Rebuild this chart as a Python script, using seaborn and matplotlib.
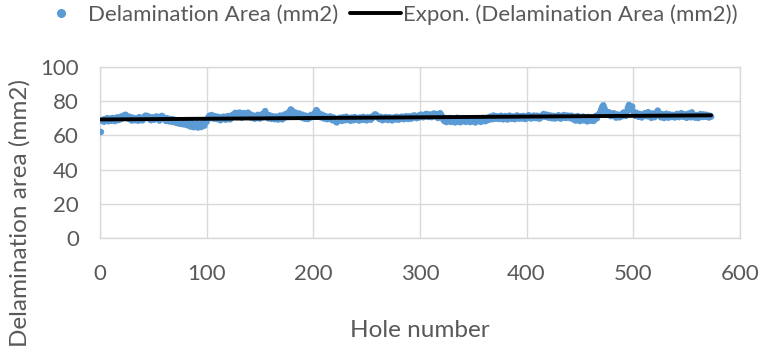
import numpy as np
import pandas as pd
import matplotlib
matplotlib.use("Agg")
import matplotlib.pyplot as plt
from matplotlib.lines import Line2D
import seaborn as sns

# Delamination area per hole (mm2), holes 1..573
area = [
    62.0, 68.5, 69.2, 68.0, 69.5, 68.8, 70.1, 68.3, 69.0, 69.8, 68.6, 70.2, 69.1, 68.4, 69.7, 70.5, 68.9, 69.3, 70.8, 69.6,
    71.2, 70.4, 71.8, 72.1, 71.5, 70.6, 69.8, 70.9, 69.2, 68.7, 70.3, 69.5, 68.9, 70.0, 69.4, 68.6, 70.7, 69.9, 69.1, 68.8,
    70.4, 71.0, 71.6, 70.8, 71.3, 70.1, 69.5, 68.9, 70.6, 69.8, 69.2, 70.5, 71.1, 70.2, 69.6, 68.7, 70.9, 71.4, 71.0, 69.9,
    69.3, 68.5, 70.1, 69.0, 68.2, 69.6, 68.8, 67.9, 69.4, 68.6, 67.5, 68.9, 67.2, 68.3, 66.8, 68.0, 67.4, 66.5, 68.1, 67.0,
    66.2, 67.8, 65.8, 66.9, 65.2, 67.5, 66.0, 64.8, 66.6, 65.5, 67.2, 64.6, 65.9, 66.8, 64.9, 66.3, 67.6, 65.7, 68.4, 67.9,
    69.5, 70.8, 71.6, 70.2, 71.9, 70.9, 69.8, 71.2, 70.5, 69.6, 70.9, 70.1, 68.9, 70.4, 69.7, 71.0, 70.3, 69.2, 70.7, 71.3,
    70.0, 69.4, 71.5, 70.6, 72.2, 71.1, 73.2, 72.0, 70.8, 72.9, 73.4, 71.6, 70.4, 72.5, 73.1, 71.8, 70.9, 72.7, 73.3, 71.4,
    70.6, 72.1, 70.3, 71.5, 69.8, 71.0, 70.2, 72.0, 71.3, 69.9, 71.7, 72.4, 70.7, 73.0, 74.2, 72.6, 71.1, 70.0, 71.8, 70.5,
    69.7, 71.2, 70.4, 69.5, 71.0, 70.1, 69.3, 70.8, 71.6, 70.0, 69.4, 71.3, 72.2, 70.6, 71.9, 73.0, 72.4, 74.1, 75.2, 74.6,
    73.2, 72.0, 73.5, 71.4, 72.6, 70.9, 72.8, 71.7, 70.5, 72.1, 71.0, 69.8, 71.5, 70.7, 69.6, 71.2, 70.3, 72.0, 70.8, 71.6,
    72.5, 73.6, 74.8, 74.0, 72.9, 71.7, 70.6, 72.2, 71.0, 69.9, 71.4, 70.2, 69.5, 70.8, 69.8, 71.1, 70.0, 68.9, 70.5, 69.3,
    68.4, 67.6, 69.7, 68.8, 70.3, 69.2, 68.5, 70.6, 69.6, 68.9, 70.9, 69.4, 70.2, 69.0, 68.6, 70.4, 69.8, 68.9, 70.7, 69.5,
    70.1, 69.3, 68.7, 70.5, 69.9, 69.1, 70.8, 70.0, 69.4, 68.8, 70.6, 69.7, 70.3, 69.2, 71.0, 70.4, 71.6, 72.3, 72.0, 71.2,
    70.5, 69.6, 70.9, 69.8, 68.9, 70.4, 69.5, 70.7, 69.9, 69.0, 70.6, 69.8, 70.3, 68.8, 69.7, 70.5, 69.4, 70.9, 70.1, 69.2,
    70.6, 69.7, 71.0, 70.3, 69.5, 70.8, 71.2, 70.4, 69.6, 71.1, 70.2, 69.8, 71.4, 70.6, 71.7, 70.9, 70.1, 71.3, 70.5, 71.8,
    72.2, 71.4, 70.6, 72.0, 71.2, 72.6, 71.5, 70.8, 72.3, 71.6, 70.7, 72.1, 72.8, 71.3, 72.5, 71.0, 70.2, 72.4, 73.0, 72.0,
    70.9, 69.2, 68.4, 70.1, 67.8, 69.4, 68.6, 70.2, 67.9, 69.1, 68.3, 69.8, 67.6, 68.9, 70.3, 68.1, 69.5, 67.7, 68.8, 70.0,
    68.4, 69.6, 67.9, 68.7, 70.1, 69.0, 67.8, 68.5, 69.9, 68.2, 69.4, 67.6, 68.9, 70.0, 68.6, 69.3, 67.9, 68.8, 70.2, 69.1,
    68.3, 69.7, 68.8, 70.4, 69.2, 71.0, 70.3, 69.5, 71.6, 70.8, 69.8, 71.2, 70.4, 69.6, 70.9, 71.5, 70.1, 69.4, 70.7, 71.3,
    70.0, 69.3, 70.8, 71.6, 70.5, 69.7, 71.1, 70.2, 69.5, 70.9, 71.7, 70.4, 69.8, 71.2, 70.6, 69.9, 71.4, 70.3, 69.6, 71.0,
    70.5, 71.8, 70.7, 69.9, 71.3, 70.2, 71.6, 70.9, 70.1, 71.5, 70.4, 69.8, 71.1, 70.6, 71.9, 72.5, 71.4, 70.8, 72.1, 71.2,
    70.3, 71.7, 70.9, 70.0, 71.4, 70.6, 69.9, 71.2, 70.5, 71.8, 70.7, 69.8, 71.3, 70.4, 71.9, 71.0, 70.2, 71.6, 70.8, 71.4,
    70.1, 71.5, 70.6, 69.4, 70.9, 68.7, 70.2, 71.3, 69.6, 68.4, 70.5, 69.1, 71.0, 68.8, 70.3, 69.5, 68.2, 70.8, 69.7, 68.6,
    70.1, 69.3, 68.5, 70.6, 71.4, 70.0, 71.8, 72.4, 73.5, 75.2, 76.8, 77.6, 75.9, 74.2, 73.0, 72.1, 73.6, 72.5, 71.3, 72.8,
    71.6, 72.9, 71.2, 70.4, 72.3, 71.5, 70.6, 72.0, 71.1, 72.6, 73.4, 72.2, 71.4, 73.8, 76.2, 77.8, 77.1, 75.4, 76.9, 74.1,
    72.8, 71.5, 73.2, 72.0, 70.9, 72.6, 71.3, 70.5, 72.1, 71.7, 73.0, 72.3, 71.2, 73.6, 72.4, 71.0, 70.3, 72.8, 71.5, 70.7,
    72.2, 73.4, 74.5, 73.1, 71.8, 70.6, 72.5, 71.3, 70.2, 71.9, 72.7, 71.0, 70.4, 72.3, 71.6, 70.8, 72.0, 71.2, 70.5, 71.8,
    72.6, 71.4, 70.7, 72.2, 73.0, 71.7, 70.9, 72.4, 71.1, 70.3, 71.6, 72.8, 71.5, 70.6, 73.5, 72.1, 71.3, 70.4, 71.9, 71.0,
    70.2, 71.7, 72.5, 71.4, 70.8, 72.3, 71.6, 70.9, 72.0, 71.2, 70.5, 71.5, 71.0,
]
holes = list(range(1, len(area) + 1))

x_ticks = [0, 100, 200, 300, 400, 500, 600]
y_ticks = [0, 20, 40, 60, 80, 100]
x_label = "Hole number"
y_label = "Delamination area (mm2)"
series_name = "Delamination Area (mm2)"
trend_name = "Expon. (Delamination Area (mm2))"

df = pd.DataFrame({"hole": holes, "area": area})

# exponential trendline fitted like Excel (least squares on ln y)
b, ln_a = np.polyfit(df["hole"], np.log(df["area"]), 1)
trend = pd.DataFrame({"hole": df["hole"], "fit": np.exp(ln_a) * np.exp(b * df["hole"])})

sns.set_style("white")
plt.rcParams["font.family"] = ["Lato", "DejaVu Sans"]

text_color = "#595959"
grid_color = "#D9D9D9"
blue = "#5B9BD5"

fig = plt.figure(figsize=(7.62, 3.55), dpi=100)
ax = fig.add_axes([0.131, 0.330, 0.840, 0.481])

sns.scatterplot(data=df, x="hole", y="area", ax=ax, color=blue, s=22,
                edgecolor="none", linewidth=0, zorder=3, legend=False)
sns.lineplot(data=trend, x="hole", y="fit", ax=ax, color="black",
             linewidth=2.8, zorder=4, legend=False)

ax.set_xlim(0, 600)
ax.set_ylim(0, 100)
ax.set_xticks(x_ticks)
ax.set_yticks(y_ticks)
ax.grid(True, color=grid_color, linewidth=1.0)
ax.set_axisbelow(True)
for sp in ax.spines.values():
    sp.set_visible(True)
    sp.set_color(grid_color)
    sp.set_linewidth(1.0)
ax.tick_params(axis="both", length=0, labelsize=16, colors=text_color)
ax.tick_params(axis="x", pad=19)
ax.tick_params(axis="y", pad=15)
ax.set_xlabel(x_label, fontsize=17.5, color=text_color)
ax.set_ylabel(y_label, fontsize=17.5, color=text_color)
ax.xaxis.label.set_va("center")
ax.yaxis.label.set_va("center")
ax.xaxis.set_label_coords(0.5, -0.545)
ax.yaxis.set_label_coords(-0.125, 0.146)

handles = [
    Line2D([], [], marker="o", linestyle="none", color=blue, markersize=5.5),
    Line2D([], [], color="black", linewidth=2.8),
]
fig.legend(handles, [series_name, trend_name], loc="center",
           bbox_to_anchor=(0.507, 0.958), ncol=2, frameon=False, fontsize=16,
           labelcolor=text_color, handlelength=2.3, handletextpad=0.1,
           columnspacing=0.5, borderpad=0, borderaxespad=0)

fig.savefig("out.png", dpi=100)
